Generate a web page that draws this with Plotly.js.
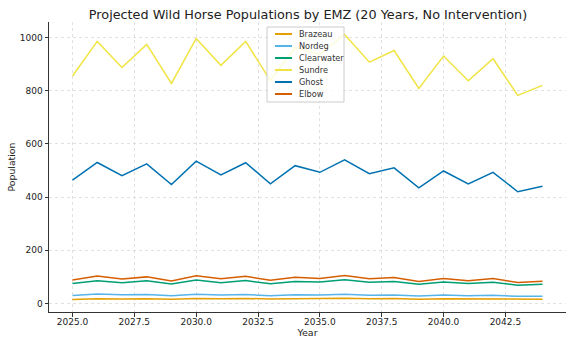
<!DOCTYPE html>
<html><head><meta charset="utf-8">
<script src="https://cdn.plot.ly/plotly-3.0.1.min.js"></script>
<style>body{margin:0;padding:0;background:#fff}#chart{width:576px;height:346px}</style>
</head><body><div id="chart"></div>
<script>
const years = [2025,2026,2027,2028,2029,2030,2031,2032,2033,2034,2035,2036,2037,2038,2039,2040,2041,2042,2043,2044];
const brazeau = [15,18,17,18,16,19,18,19,17,19,19,20,18,19,16,18,17,18,15,16];
const nordeg = [30,36,33,34,29,35,32,34,29,33,32,35,31,32,28,32,29,31,27,27];
const clearwater = [75,85,78,85,73,88,78,86,74,83,81,89,80,83,72,81,75,80,69,72];
const sundre = [855,985,887,974,827,996,895,985,838,962,936,1011,907,951,808,930,837,920,782,820];
const ghost = [464,530,480,525,447,535,483,529,450,518,493,540,488,510,435,498,449,493,420,441];
const elbow = [88,103,92,100,85,104,93,102,87,99,94,105,93,98,83,94,85,94,79,84];
const seriesNames = ['Brazeau','Nordeg','Clearwater','Sundre','Ghost','Elbow'];
const seriesData = [brazeau, nordeg, clearwater, sundre, ghost, elbow];
const colors = ['#E69F00','#56B4E9','#009E73','#F0E442','#0072B2','#D55E00'];

const traces = seriesNames.map((n,i)=>({
  x: years, y: seriesData[i], name: n, type:'scatter', mode:'lines',
  line:{color:colors[i], width:1.5}, showlegend:false
}));

// custom compact legend (paper coords)
const W = 517, H = 290, L = 49, T = 22;
const px = v => (v - L) / W;
const py = v => (T + H - v) / H;
const shapes = [{type:'rect', xref:'paper', yref:'paper', x0:px(267), x1:px(344), y0:py(102), y1:py(27),
  line:{color:'#cccccc', width:1}, fillcolor:'rgba(255,255,255,0.8)', layer:'above'}];
const annotations = [];
seriesNames.forEach((n,i)=>{
  const yy = 34 + 12*i;
  shapes.push({type:'line', xref:'paper', yref:'paper', x0:px(275), x1:px(292), y0:py(yy), y1:py(yy),
    line:{color:colors[i], width:2}, layer:'above'});
  annotations.push({xref:'paper', yref:'paper', x:px(297), y:py(yy), text:n, showarrow:false,
    xanchor:'left', yanchor:'middle', font:{size:8.2, color:'#333'}});
});

const gridStyle = {showgrid:true, gridcolor:'#d9d9d9', griddash:'dot', gridwidth:0.8};
const layout = {
  width:576, height:346,
  margin:{l:L, r:576-L-W, t:T, b:346-T-H},
  paper_bgcolor:'#fff', plot_bgcolor:'#fff',
  font:{family:'DejaVu Sans', size:9, color:'#222'},
  title:{text:'Projected Wild Horse Populations by EMZ (20 Years, No Intervention)', x:308/576, xanchor:'center', y:1-15/346, yanchor:'middle', font:{size:12.8, color:'#222'}},
  xaxis: Object.assign({
    range:[2024.05, 2044.95], tick0:2025, dtick:2.5, tickformat:'.1f',
    showline:true, linecolor:'#333', linewidth:1, ticks:'outside', ticklen:3.5, tickcolor:'#333',
    ticklabelstandoff:-2,
    zeroline:false, mirror:false,
    title:{text:'Year', font:{size:9.5}, standoff:2}
  }, gridStyle),
  yaxis: Object.assign({
    range:[-32, 1058], tick0:0, dtick:200,
    showline:true, linecolor:'#333', linewidth:1, ticks:'outside', ticklen:3.5, tickcolor:'#333',
    zeroline:false,
    title:{text:'Population', font:{size:9.3}, standoff:2}
  }, gridStyle),
  showlegend:false,
  shapes: shapes,
  annotations: annotations
};
Plotly.newPlot('chart', traces, layout, {staticPlot:true, displayModeBar:false});
</script></body></html>
